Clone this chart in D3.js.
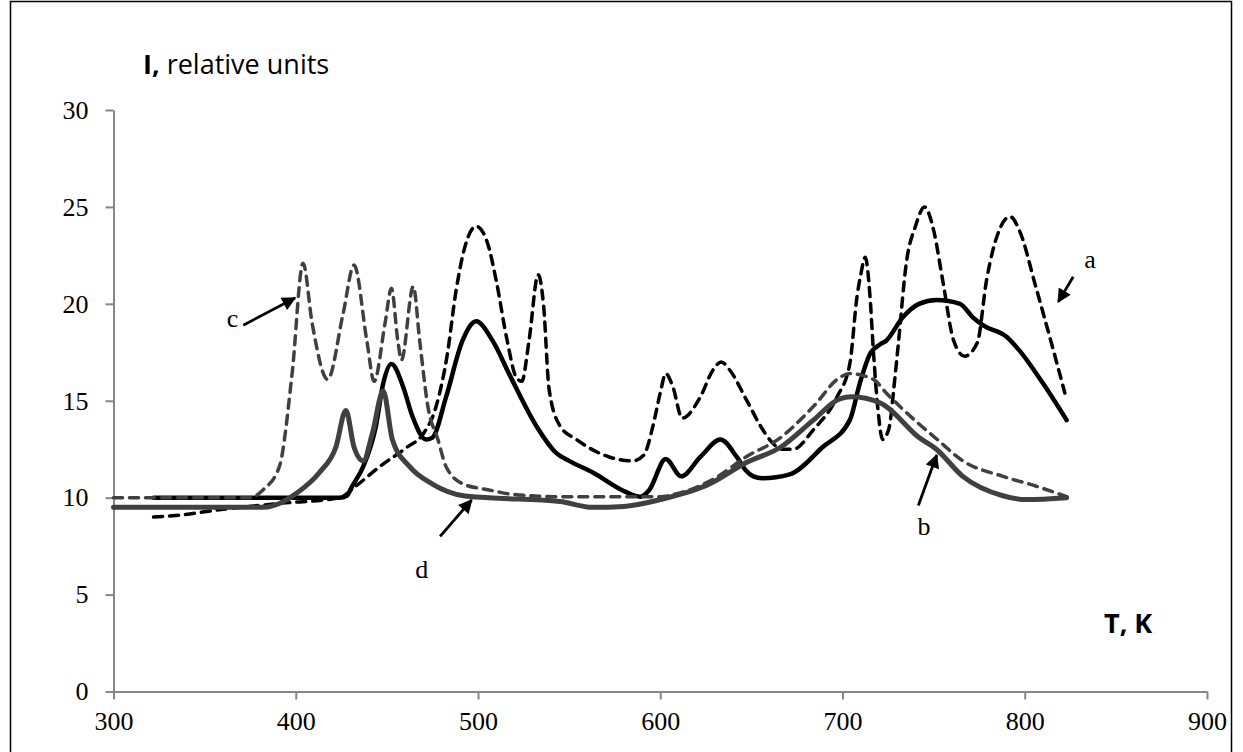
<!DOCTYPE html>
<html>
<head>
<meta charset="utf-8">
<script src="https://cdn.jsdelivr.net/npm/d3@7"></script>
<style>
  body { margin: 0; background: #fff; }
  .tick text { font-family: 'Liberation Serif', 'DejaVu Serif', serif; font-size: 26px; fill: #000; }
  .tick line, .domain { stroke: #868686; stroke-width: 2px; }
</style>
</head>
<body>
<script>
// curve a : black dashed
const tA = [322, 336, 360, 391, 424, 433, 446, 461, 470, 477, 483, 488, 493, 499, 505, 510, 516, 521, 524, 528, 533, 536, 539, 545, 554, 572, 585, 591, 596, 600, 603, 607, 612, 622, 629, 633.5, 638, 647, 655, 660, 667, 673, 684, 697, 704, 708, 710, 712.5, 715, 717, 719.5, 722, 724, 726, 728, 730.5, 735, 740, 745, 750, 755, 761, 767, 774, 779, 786, 792, 797, 806, 816, 822]
const iA = [9.0, 9.1, 9.4, 9.7, 10.0, 10.6, 11.6, 12.6, 13.3, 14.7, 17.3, 20.7, 23.0, 24.0, 23.2, 21.2, 18.1, 16.2, 16.0, 18.1, 21.5, 19.9, 15.6, 13.7, 13.0, 12.1, 11.9, 12.2, 13.7, 15.4, 16.4, 15.7, 14.1, 15.2, 16.6, 17.0, 16.6, 15.1, 13.7, 13.0, 12.5, 12.5, 13.5, 15.2, 16.9, 20.4, 21.5, 22.4, 20.5, 17.5, 14.5, 13.0, 13.2, 13.8, 15.5, 17.8, 22.1, 24.0, 25.0, 23.8, 21.2, 18.1, 17.3, 18.0, 21.2, 23.8, 24.5, 23.8, 20.9, 17.5, 15.4]

// black solid
const tB = [322, 380, 424, 428, 431, 437, 444, 448, 452.5, 459, 464, 471.5, 475, 482.5, 491.5, 499, 508, 517, 532, 543, 550, 563, 581, 589, 594, 603, 611.5, 622, 633, 642, 647, 651, 656, 671, 689, 704, 709.5, 715, 720.5, 724, 733, 742, 751.5, 764.5, 771.5, 777, 790, 797, 810, 823]
const iB = [10.0, 10.0, 10.0, 10.1, 10.6, 11.6, 13.7, 15.9, 16.9, 15.7, 14.2, 13.0, 13.1, 15.2, 18.1, 19.1, 18.1, 16.4, 13.7, 12.3, 11.9, 11.3, 10.3, 10.05, 10.4, 12.0, 11.1, 12.1, 13.0, 12.1, 11.4, 11.1, 11.0, 11.2, 12.6, 14.0, 15.9, 17.4, 17.9, 18.1, 19.3, 20.0, 20.2, 20.0, 19.3, 18.9, 18.3, 17.6, 15.9, 14.0]

// curve c : gray dashed
const tC = [300, 375, 382, 391, 398, 404, 409, 417.5, 426, 432, 439, 443, 449, 452.5, 456, 458, 464.5, 468, 472.5, 478, 482.5, 492, 506, 517, 545, 600, 609, 630, 647, 666, 684, 698.5, 704, 717, 724, 742, 752, 766, 788, 806, 823]
const iC = [10.0, 10.0, 10.4, 11.6, 16.4, 22.1, 19.0, 16.1, 19.5, 22.0, 18.1, 16.0, 19.0, 20.8, 18.1, 17.1, 20.9, 18.1, 14.7, 13.0, 11.6, 10.7, 10.4, 10.2, 10.05, 10.05, 10.2, 11.0, 12.1, 13.1, 14.7, 16.2, 16.4, 16.1, 15.4, 13.8, 13.0, 11.9, 11.1, 10.6, 10.05]

// gray solid
const tD = [300, 382, 391, 400, 413, 422, 427.5, 432, 437, 442, 448, 453, 462.5, 475, 492, 506, 545, 563, 580, 600, 627, 647, 666, 684, 698.5, 705, 720.5, 724, 742, 751.5, 766, 788, 801, 823]
const iD = [9.5, 9.5, 9.7, 10.2, 11.3, 12.6, 14.5, 12.6, 11.9, 13.3, 15.5, 13.0, 11.6, 10.7, 10.1, 10.0, 9.8, 9.5, 9.55, 9.9, 10.7, 11.8, 12.6, 14.0, 15.1, 15.2, 14.9, 14.7, 13.1, 12.5, 11.1, 10.1, 9.9, 10.0]

const xTicks = [300, 400, 500, 600, 700, 800, 900]
const yTicks = [0, 5, 10, 15, 20, 25, 30]

// curve labels: text, label position (data units), arrow start, arrow tip
const labels = [
  { name: 'a', at: [835.8, 21.85], from: [826.6, 21.4], to: [818.4, 20.1] },
  { name: 'b', at: [744.7, 8.07], from: [741.6, 9.6], to: [751.7, 12.2] },
  { name: 'c', at: [365.3, 18.8], from: [371.2, 18.9], to: [399.6, 20.3] },
  { name: 'd', at: [469.1, 5.86], from: [479.2, 8.0], to: [496.5, 9.88] }
]

const w = 1243
const h = 752

const svg = d3.select('body')
  .append('svg')
  .attr('width', w)
  .attr('height', h)

svg.append('rect')
  .attr('x', 10.5).attr('y', 1.5)
  .attr('width', 1221).attr('height', 780)
  .attr('fill', 'none')
  .attr('stroke', '#000')
  .attr('stroke-width', 1.5)

const x = d3.scaleLinear().domain([300, 900]).range([113.5, 1207])
const y = d3.scaleLinear().domain([0, 30]).range([691.5, 110])

svg.append('g')
  .attr('transform', 'translate(0,' + y(0) + ')')
  .call(d3.axisBottom(x).tickValues(xTicks).tickSize(8).tickSizeOuter(0).tickPadding(12))

svg.append('g')
  .attr('transform', 'translate(' + x(300) + ',0)')
  .call(d3.axisLeft(y).tickValues(yTicks).tickSize(8).tickSizeOuter(0).tickPadding(17))

svg.append('defs').append('marker')
  .attr('id', 'head')
  .attr('viewBox', '0 0 10 10')
  .attr('refX', 9).attr('refY', 5)
  .attr('markerWidth', 5.5).attr('markerHeight', 5)
  .attr('markerUnits', 'strokeWidth')
  .attr('orient', 'auto')
  .append('path')
  .attr('d', 'M0,0 L10,5 L0,10 Z')
  .attr('fill', '#000')

const line = d3.line()
  .x(d => x(d[0]))
  .y(d => y(d[1]))
  .curve(d3.curveMonotoneX)

const series = [
  { t: tA, v: iA, color: '#000', width: 3.5, dash: '9,7' },
  { t: tB, v: iB, color: '#000', width: 4.5, dash: null },
  { t: tD, v: iD, color: '#404040', width: 5, dash: null },
  { t: tC, v: iC, color: '#404040', width: 3.5, dash: '9,7' }
]

series.forEach(s => {
  svg.append('path')
    .datum(d3.zip(s.t, s.v))
    .attr('d', line)
    .attr('fill', 'none')
    .attr('stroke', s.color)
    .attr('stroke-width', s.width)
    .attr('stroke-linecap', 'round')
    .attr('stroke-linejoin', 'round')
    .attr('stroke-dasharray', s.dash)
})

labels.forEach(l => {
  svg.append('line')
    .attr('x1', x(l.from[0])).attr('y1', y(l.from[1]))
    .attr('x2', x(l.to[0])).attr('y2', y(l.to[1]))
    .attr('stroke', '#000')
    .attr('stroke-width', 2.8)
    .attr('marker-end', 'url(#head)')
  svg.append('text')
    .attr('x', x(l.at[0])).attr('y', y(l.at[1]))
    .attr('text-anchor', 'middle')
    .style('font-family', "'Liberation Serif', serif")
    .style('font-size', '26px')
    .text(l.name)
})

const title = svg.append('text')
  .attr('x', 143).attr('y', 74)
  .style('font-family', "'Open Sans', sans-serif")
  .style('font-size', '27px')
title.append('tspan').style('font-weight', 'bold').text('I,')
title.append('tspan').text(' relative units')

svg.append('text')
  .attr('x', 1104).attr('y', 633)
  .style('font-family', "'Open Sans', sans-serif")
  .style('font-size', '27px')
  .style('font-weight', 'bold')
  .text('T, K')
</script>
</body>
</html>
